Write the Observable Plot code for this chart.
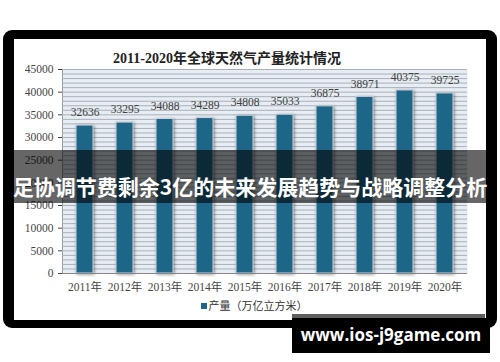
<!DOCTYPE html>
<html>
<head>
<meta charset="utf-8">
<script src="https://cdn.jsdelivr.net/npm/d3@7"></script>
<script src="https://cdn.jsdelivr.net/npm/@observablehq/plot@0.6"></script>
<style>
  body { margin: 0; background: #fff; }
  #wrap { position: relative; width: 500px; height: 362px; background: #fff; overflow: hidden; }
  .abs { position: absolute; }
</style>
</head>
<body>
<div id="wrap">
  <div class="abs" style="left:3px;top:30px;width:494px;height:298px;background:#000;border-radius:9px"></div>
  <div class="abs" style="left:14px;top:39px;width:472px;height:281px;background:#fff"></div>
  <div id="chart" class="abs" style="left:14px;top:39px"></div>
  <div id="title" class="abs" style="left:0;top:51px;width:454px;text-align:center;font:bold 14px/16px 'Liberation Serif','Noto Sans CJK SC',serif;color:#222"></div>
  <div id="legend" class="abs" style="left:0;top:298px;width:508px;text-align:center;font:11px/14px 'Noto Sans CJK SC',sans-serif;color:#333"></div>
  <div class="abs" style="left:3px;top:150px;width:494px;height:53px;background:rgba(0,0,0,0.6)"></div>
  <div id="banner" class="abs" style="left:0;top:173px;width:500px;height:26px;text-align:center;font:bold 21px/26px 'Noto Sans CJK SC',sans-serif;color:#fff;white-space:nowrap"></div>
  <div class="abs" style="left:292px;top:314px;width:193px;height:5px;background:#5f5f5f"></div>
  <div class="abs" style="left:292px;top:318px;width:198px;height:35px;background:#000"></div>
  <div id="wm" class="abs" style="left:292px;top:322px;width:198px;height:26px;text-align:center;font:bold 17px/26px 'Open Sans',sans-serif;color:#fff"></div>
</div>
<script>
const years = ["2011年","2012年","2013年","2014年","2015年","2016年","2017年","2018年","2019年","2020年"];
const values = [32636, 33295, 34088, 34289, 34808, 35033, 36875, 38971, 40375, 39725];
const yTicks = [0, 5000, 10000, 15000, 20000, 25000, 30000, 35000, 40000, 45000];
const titleText = "2011-2020年全球天然气产量统计情况";
const legendText = "产量（万亿立方米）";
const bannerText = "足协调节费剩余3亿的未来发展趋势与战略调整分析";
const watermarkText = "www.ios-j9game.com";

const barColor = "#1d6688";
const data = years.map((y, i) => ({year: y, value: values[i]}));
const gridLines = d3.range(1000, 45001, 1000);

const chart = Plot.plot({
  width: 472,
  height: 281,
  marginLeft: 48,
  marginRight: 19,
  marginTop: 30,
  marginBottom: 47,
  style: {fontFamily: "'Liberation Serif', 'Noto Sans CJK SC', serif", fontSize: "11.5px", color: "#444", background: "transparent"},
  x: {domain: years, paddingInner: 0.58, paddingOuter: 0.29, label: null, tickSize: 0, tickPadding: 9},
  y: {domain: [0, 45000], ticks: yTicks, tickFormat: d => String(d), label: null, tickSize: 4, tickPadding: 5, line: true},
  marks: [
    Plot.frame({fill: "#e7edf2", stroke: null}),
    Plot.ruleY(gridLines, {stroke: "#a7b1bb", strokeWidth: 1}),
    Plot.barY(data, {x: "year", y: "value", fill: barColor, stroke: "#d0d6dc", strokeWidth: 1}),
    Plot.text(data, {x: "year", y: "value", text: d => String(d.value), dy: -13, fill: "#404040", fontSize: 11.5}),
    Plot.ruleY([0], {stroke: "#888"})
  ]
});
const barG = chart.querySelector('g[aria-label="bar"]');
if (barG) barG.style.filter = "drop-shadow(1px 1px 1.5px rgba(0,0,0,0.45))";
document.getElementById("chart").appendChild(chart);

document.getElementById("title").textContent = titleText;
const lg = document.getElementById("legend");
const sw = document.createElement("span");
sw.style.cssText = `display:inline-block;width:6px;height:6px;background:${barColor};margin-right:2px;vertical-align:1px`;
lg.appendChild(sw);
lg.appendChild(document.createTextNode(legendText));
document.getElementById("banner").textContent = bannerText;
document.getElementById("wm").textContent = watermarkText;
</script>
</body>
</html>
